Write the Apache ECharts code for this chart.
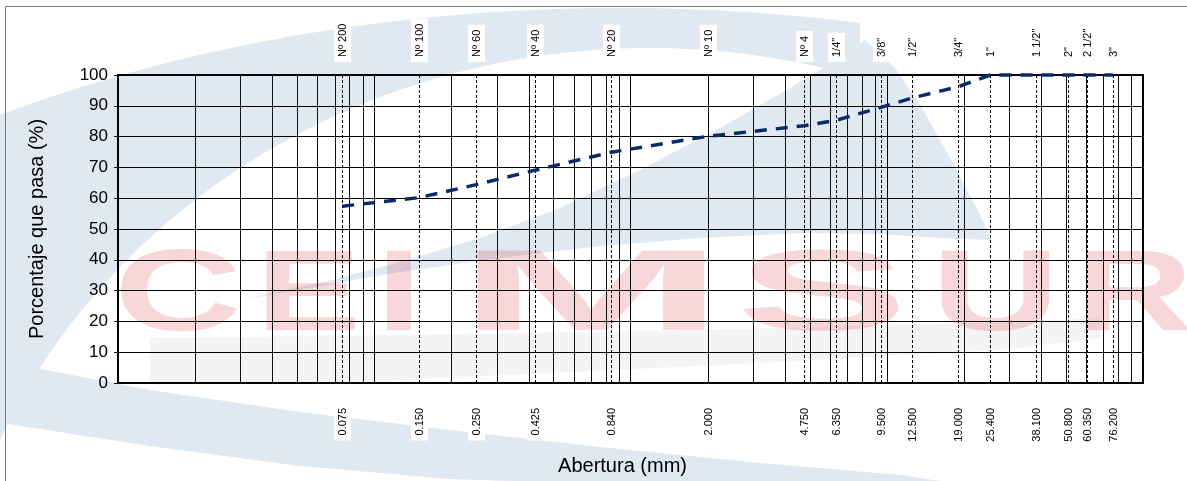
<!DOCTYPE html>
<html>
<head>
<meta charset="utf-8">
<script src="https://cdn.jsdelivr.net/npm/echarts@6/dist/echarts.min.js"></script>
<style>
html,body{margin:0;padding:0;background:#fff;}
#chart{width:1187px;height:481px;}
</style>
</head>
<body>
<div id="chart"></div>
<script>
// ---- data ----
const sieveNames = ['Nº 200','Nº 100','Nº 60','Nº 40','Nº 20','Nº 10','Nº 4','1/4"','3/8"','1/2"','3/4"','1"','1 1/2"','2"','2 1/2"','3"'];
const sieveSizes = [0.075,0.150,0.250,0.425,0.840,2.000,4.750,6.350,9.500,12.500,19.000,25.400,38.100,50.800,60.350,76.200];
const sieveSizeLabels = ['0.075','0.150','0.250','0.425','0.840','2.000','4.750','6.350','9.500','12.500','19.000','25.400','38.100','50.800','60.350','76.200'];
const percentPassing = [57.4,60.2,64.4,69.1,74.9,80.1,83.5,85.3,89.5,92.5,96.2,100,100,100,100,100];
const minorGridValues = [0.02,0.03,0.04,0.05,0.06,0.07,0.08,0.09,
                         0.2,0.3,0.4,0.5,0.6,0.7,0.8,0.9,
                         2,3,4,5,6,7,8,9,
                         20,30,40,50,60,70,80,90];
const yTicks = {min:0, max:100, interval:10};
const xRange = {min:0.01, max:100};

const FONT = '"Liberation Sans", Arial, sans-serif';
const chart = echarts.init(document.getElementById('chart'), null, {renderer:'canvas'});

// ---- watermark (background logo approximation) ----
const blue = '#e0e8f1';
const pink = 'rgba(215,40,60,0.19)';
function ellUpper(cx, cy, rx, ry, x0, x1, n){
  const pts = [];
  for (let k = 0; k <= n; k++){
    const x = x0 + (x1 - x0) * k / n;
    const t = Math.max(0, 1 - Math.pow((x - cx) / rx, 2));
    pts.push([x, cy - ry * Math.sqrt(t)]);
  }
  return pts;
}
const shapeA = ellUpper(620, 700, 1161, 692, -5, 860, 60)
  .concat(ellUpper(650, 700, 709, 652, 860, -5, 60));
const shapeB = [[240,300],[320,283],[400,262],[480,238],[560,208],[640,170],[720,128],[790,88],[840,58],[865,40],
  [895,68],[922,108],[950,158],[975,205],[992,240],
  [940,238],[880,234],[800,233],[700,238],[600,246],[500,258],[400,272],[320,286]];
const shapeC = [[-5,360],[150,390],[300,412],[450,430],[600,447],[750,462],[900,475],[960,484],
  [600,484],[450,479],[300,466],[150,446],[-5,422]];
const shapeGray = [[150,338],[400,335],[700,330],[1000,322],[1100,318],[1100,338],[1000,350],[700,366],[400,380],[150,384]];

const letters = [
  {t:'C', x:114, w:128},
  {t:'E', x:256, w:105},
  {t:'I', x:376, w:46},
  {t:'M', x:456, w:270},
  {t:'S', x:736, w:172},
  {t:'U', x:931, w:129},
  {t:'R', x:1075, w:118}
];
const letterW = {C:0.722,E:0.667,I:0.278,M:0.833,S:0.667,U:0.722,R:0.722};
const FS = 115;
const letterEls = letters.map(l => ({
  type:'text', z:-10, silent:true,
  x:l.x, y:298,
  scaleX: l.w/(letterW[l.t]*FS),
  style:{text:l.t, font:'bold '+FS+'px '+FONT, fill:pink, align:'left', verticalAlign:'middle'}
}));

function px(v){return Math.round(v)+0.5;}

const option = {
  backgroundColor:'#fff',
  animation:false,
  graphic:{elements:[
    {type:'polygon', z:-12, silent:true, shape:{points:shapeA}, style:{fill:blue}},
    {type:'polygon', z:-12, silent:true, shape:{points:shapeB, smooth:0}, style:{fill:blue}},
    {type:'polygon', z:-12, silent:true, shape:{points:shapeC, smooth:0}, style:{fill:blue}},
    {type:'polygon', z:-11, silent:true, shape:{points:shapeGray, smooth:0}, style:{fill:'rgba(0,0,0,0.045)'}},
    ...letterEls,
    {type:'rect', z:-9, silent:true, shape:{x:5.5,y:6.5,width:1300,height:600}, style:{fill:null, stroke:'#7a7a7a', lineWidth:1}}
  ]},
  grid:{left:118, right:44, top:75, bottom:87, show:true, borderColor:'#000', borderWidth:2, backgroundColor:'transparent'},
  xAxis:{
    type:'log', logBase:10, min:xRange.min, max:xRange.max,
    name:'Abertura (mm)', nameLocation:'middle', nameGap:73,
    nameTextStyle:{fontFamily:FONT, fontSize:20, color:'#000', padding:[0,16,0,0]},
    axisLine:{show:true, lineStyle:{color:'#000', width:2}},
    axisTick:{show:false},
    axisLabel:{show:false},
    splitLine:{show:true, lineStyle:{color:'#000', width:1}}
  },
  yAxis:{
    type:'value', min:yTicks.min, max:yTicks.max, interval:yTicks.interval,
    name:'Porcentaje que pasa (%)', nameLocation:'middle', nameGap:71,
    nameTextStyle:{fontFamily:FONT, fontSize:20, color:'#000'},
    axisLine:{show:true, lineStyle:{color:'#000', width:2}},
    axisTick:{show:true, length:4, lineStyle:{color:'#000'}},
    axisLabel:{fontFamily:FONT, fontSize:17, color:'#000', margin:10},
    splitLine:{show:true, lineStyle:{color:'#000', width:1}}
  },
  series:[
    {
      type:'custom', z:1, silent:true, clip:false,
      data: minorGridValues.map(v => [v, 0]),
      encode:{x:0, y:1},
      renderItem:function(params, api){
        const a = api.coord([api.value(0), yTicks.min]);
        const b = api.coord([api.value(0), yTicks.max]);
        const x = px(a[0]);
        return {type:'line', shape:{x1:x, y1:a[1], x2:x, y2:b[1]}, style:{stroke:'#111', lineWidth:1}};
      }
    },
    {
      type:'custom', z:2, silent:true, clip:false,
      data: sieveSizes.map(v => [v, 0]),
      encode:{x:0, y:1},
      renderItem:function(params, api){
        const i = params.dataIndex;
        const a = api.coord([api.value(0), yTicks.min]);
        const b = api.coord([api.value(0), yTicks.max]);
        const x = px(a[0]);
        return {type:'group', children:[
          {type:'line', shape:{x1:x, y1:a[1], x2:x, y2:b[1]}, style:{stroke:'#000', lineWidth:1, lineDash:[3,2]}},
          {type:'text', x:x, y:a[1]+20, rotation:Math.PI/2,
           style:{text:sieveSizeLabels[i], font:'11px '+FONT, fill:'#000', align:'right', verticalAlign:'middle', backgroundColor:'#fff', padding:[3,5]}},
          {type:'text', x:x, y:b[1]-13, rotation:Math.PI/2,
           style:{text:sieveNames[i], font:'11px '+FONT, fill:'#000', align:'left', verticalAlign:'middle', backgroundColor:'#fff', padding:[3,5]}}
        ]};
      }
    },
    {
      type:'line', z:5, smooth:false, showSymbol:false, symbol:'none', clip:false,
      data: sieveSizes.map((v,i) => [v, percentPassing[i]]),
      lineStyle:{color:'#0a2b68', width:3.5, type:[12,9], cap:'butt'}
    }
  ]
};
chart.setOption(option);
</script>
</body>
</html>
